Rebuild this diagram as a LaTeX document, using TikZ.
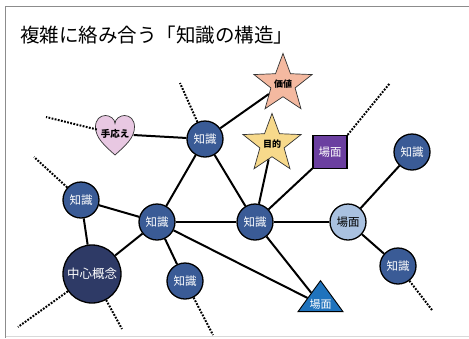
\documentclass[tikz,border=0pt]{standalone}
\usepackage{fontspec}
\newfontfamily\jp{Noto Sans CJK JP}
\usetikzlibrary{shapes.geometric}
\definecolor{kblue}{HTML}{3A5B96}
\definecolor{coreblue}{HTML}{2E3A66}
\definecolor{lightb}{HTML}{A9C1E0}
\definecolor{purp}{HTML}{6B3FA0}
\definecolor{trib}{HTML}{1F73BD}
\definecolor{salmon}{HTML}{F4B9A0}
\definecolor{sand}{HTML}{F7D98B}
\definecolor{pinkh}{HTML}{E8C8E2}
\tikzset{
  know/.style={circle, draw=black, line width=1.3pt, fill=kblue, text=white, minimum size=36pt, inner sep=0pt, font=\jp\fontsize{11.5}{11.5}\selectfont},
  corenode/.style={know, fill=coreblue, minimum size=58pt, font=\jp\fontsize{12.5}{12.5}\selectfont},
  scenec/.style={know, fill=lightb, text=black},
  scenesq/.style={rectangle, draw=black, line width=1.3pt, fill=purp, text=white, minimum width=34pt, minimum height=33pt, inner sep=0pt, font=\jp\fontsize{11.5}{11.5}\selectfont},
  scenetri/.style={isosceles triangle, shape border rotate=90, isosceles triangle apex angle=72, isosceles triangle stretches, draw=black, line width=0.9pt, fill=trib, text=white, minimum width=45pt, minimum height=31pt, inner sep=0pt, font=\jp\fontsize{11}{11}\selectfont},
  starnode/.style={star, star points=5, star point ratio=2.4, draw=black!80, line width=0.7pt, minimum size=50pt, inner sep=0pt, font=\jp\bfseries\fontsize{9}{9}\selectfont},
  link/.style={line width=2pt, black},
  loose/.style={line width=2pt, black, dash pattern=on 1.8pt off 1.4pt},
}
\begin{document}
\begin{tikzpicture}[x=1pt,y=-1pt]
\useasboundingbox (0,0) rectangle (469,338);
\fill[white] (0,0) rectangle (469,338);
% frame
\draw[black!45, line width=1.5pt] (469,6.5) -- (5.5,6.5) -- (5.5,338);
\draw[black!15, line width=1pt] (5.5,336.5) -- (469,336.5);
% title
\node[anchor=west, inner sep=0pt, font=\jp\fontsize{19.5}{19.5}\selectfont] (title) at (20,35.5) {複雑に絡み合う「知識の構造」};
% free ends
\coordinate (d1) at (180,83);
\coordinate (d2) at (46,117);
\coordinate (d3) at (34,157);
\coordinate (d4) at (18,327);
\coordinate (d5) at (122,329);
\coordinate (d6) at (213,335);
\coordinate (d7) at (390,83);
\coordinate (d8) at (432,310);
% heart
\fill[pinkh, draw=black!80, line width=0.7pt] (115,155) .. controls (105,146) and (95.5,138) .. (95.5,127) .. controls (95.5,119.5) and (100,115.5) .. (105.5,115.5) .. controls (110,115.5) and (115,119) .. (115,123.5) .. controls (115,119) and (120,115.5) .. (124.5,115.5) .. controls (130,115.5) and (134.5,119.5) .. (134.5,127) .. controls (134.5,138) and (125,146) .. (115,155) -- cycle;
\node[circle, minimum size=37pt, inner sep=0pt, font=\jp\bfseries\fontsize{9.5}{9.5}\selectfont] (heart) at (115,134) {手応え};
% nodes
\node[starnode, fill=salmon] (value) at (283,84) {価値};
\node[starnode, fill=sand, minimum size=48pt] (goal) at (272,144) {目的};
\node[know] (k1) at (205,139) {知識};
\node[know] (kL) at (81,200) {知識};
\node[know] (kC1) at (157,222) {知識};
\node[know] (kC) at (255,222) {知識};
\node[know] (kRT) at (412,152) {知識};
\node[know] (kRB) at (398,266) {知識};
\node[know] (kB) at (185,281) {知識};
\node[corenode] (core) at (92,274) {中心概念};
\node[scenec] (sc) at (348,222) {場面};
\node[scenesq] (sq) at (330,152) {場面};
\node[scenetri] (tri) at (320.5,304.5) {場面};
% links
\draw[link] (heart) -- (k1);
\draw[link] (k1) -- (value);
\draw[link] (k1) -- (kC1);
\draw[link] (k1) -- (kC);
\draw[link] (kL) -- (kC1);
\draw[link] (kL) -- (core);
\draw[link] (core) -- (kC1);
\draw[link] (kC1) -- (kC);
\draw[link] (kC1) -- (kB);
\draw[link] (kC1) -- (tri);
\draw[link] (kC) -- (goal);
\draw[link] (kC) -- (sq);
\draw[link] (kC) -- (sc);
\draw[link] (kC) -- (tri);
\draw[link] (sc) -- (kRT);
\draw[link] (sc) -- (kRB);
% dotted
\draw[loose] (k1) -- (d1);
\draw[loose] (heart) -- (d2);
\draw[loose] (kL) -- (d3);
\draw[loose] (core) -- (d4);
\draw[loose] (core) -- (d5);
\draw[loose] (kB) -- (d6);
\draw[loose] (sq.north east) -- (d7);
\draw[loose] (kRB) -- (d8);
\end{tikzpicture}
\end{document}
